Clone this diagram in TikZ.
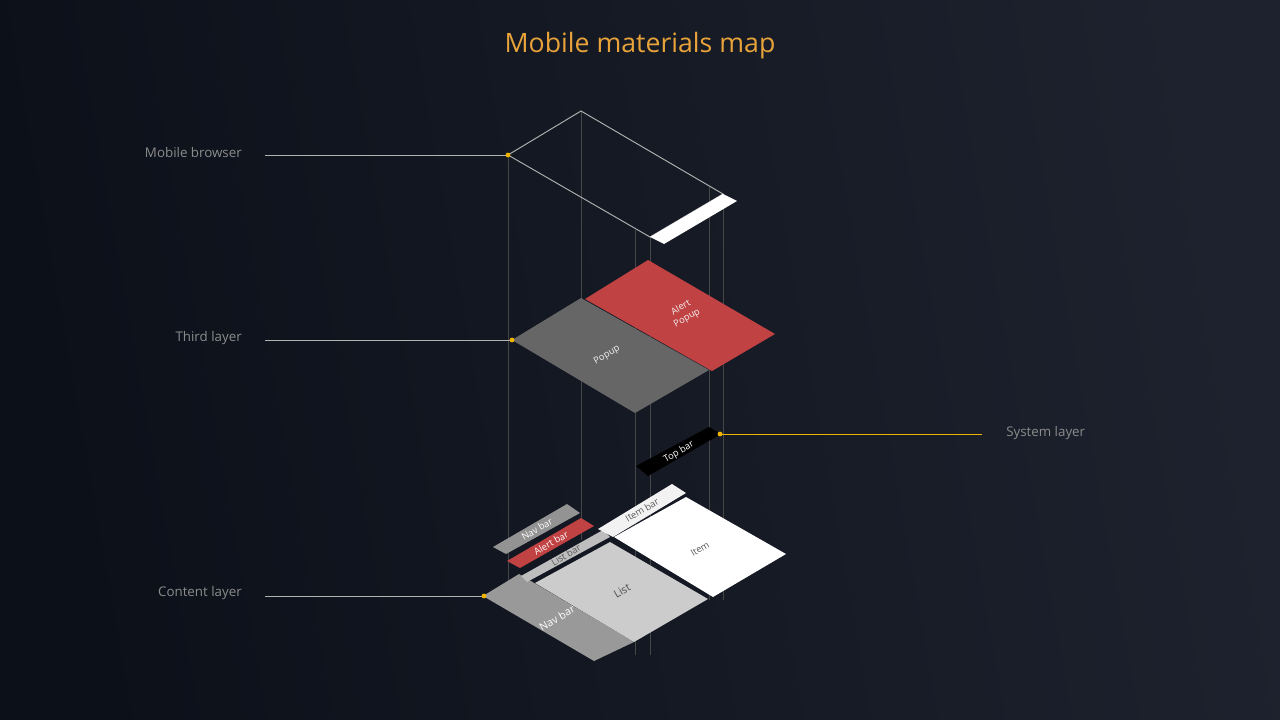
\documentclass[tikz,border=0pt]{standalone}
\usepackage{fontspec}
\setmainfont{Open Sans}
\begin{document}
\begin{tikzpicture}[x=0.75pt,y=-0.75pt,
  vline/.style={draw=gray!55!black,line width=0.4pt},
  lead/.style={draw=white!70!black,line width=0.6pt},
  dot/.style={circle,fill=gold,inner sep=1.3pt},
  lbl/.style={text=white!55!black,font=\fontsize{10}{12}\selectfont,inner sep=0pt},
  tag/.style={font=\fontsize{7}{8}\selectfont,rotate=30,align=center,inner sep=1pt}]
\definecolor{redc}{HTML}{C04243}
\definecolor{gold}{HTML}{F0B400}
\definecolor{titlec}{HTML}{E8A33A}
\shade[left color={rgb,255:red,12;green,16;blue,25},right color={rgb,255:red,30;green,34;blue,46},shading angle=100] (0,0) rectangle (1280,720);
\useasboundingbox (0,0) rectangle (1280,720);
% vertical guide lines
\draw[vline] (508,155)--(508,600) (581,111)--(581,540) (635,230)--(635,655) (650,237)--(650,655) (709,186)--(709,600) (723,194)--(723,600);
% browser
\draw[draw=white!70!black,line width=0.7pt] (508,155)--(581,111)--(723,194)--(650,237)--cycle;
\fill[white] (650,237)--(723,194)--(737,201)--(664,244)--cycle;
% third layer
\fill[redc] (585,299)--(648,260)--(775,334)--(712,371)--cycle;
\fill[fill={rgb,255:red,102;green,102;blue,102}] (512,340)--(581,298)--(709,370)--(635,413)--cycle;
\node[tag,text=white!90!gray] (pop) at (607,355) {Popup};
\node[tag,text=white!90!gray] (ap) at (684,313) {Alert\\[1pt]Popup};
% system layer
\fill[black] (636,466)--(709,427)--(721,434)--(648,476)--cycle;
\node[tag,text=white] (tb) at (679,452) {Top bar};
% content layer
\fill[gray!80!white] (483,596)--(519,574)--(634,642)--(594,661)--cycle;
\fill[fill={rgb,255:red,204;green,204;blue,204}] (535,583)--(610,542)--(708,599)--(634,642)--cycle;
\fill[fill={rgb,255:red,190;green,190;blue,190}] (521,576)--(603,530)--(610,537)--(527,582)--cycle;
\fill[redc] (507,561)--(581,518)--(594,526)--(520,568)--cycle;
\fill[gray!85!white] (493,547)--(567,504)--(580,513)--(506,554)--cycle;
\fill[white!90!gray] (598,529)--(672,484)--(686,493)--(613,537)--cycle;
\fill[white] (614,537)--(686,497)--(786,554)--(713,597)--cycle;
\node[tag,text=white] at (537,529) {Nav bar};
\node[tag,text=white] at (551,543) {Alert bar};
\node[tag,text=white!35!black] at (566,555) {List bar};
\node[tag,text=white!35!black] at (642,510) {Item bar};
\node[tag,text=white!35!black] at (700,549) {Item};
\node[tag,text=white!30!black,font=\fontsize{8}{9}\selectfont] at (622,591) {List};
\node[tag,text=white,font=\fontsize{8}{9}\selectfont] at (557,618) {Nav bar};
% labels
\node[font=\fontsize{20}{24}\selectfont,text=titlec] (title) at (640,46) {Mobile materials map};
\node[lbl,anchor=east] (l1) at (242,153) {Mobile browser};
\node[lbl,anchor=east] (l2) at (242,338) {Third layer};
\node[lbl,anchor=east] (l3) at (242,593) {Content layer};
\node[lbl,anchor=west] (l4) at (1006,433) {System layer};
\coordinate (d1) at (508,155); \coordinate (d2) at (512,340); \coordinate (d3) at (484,596); \coordinate (d4) at (720,434);
\coordinate (s1) at (265,155); \coordinate (s2) at (265,340); \coordinate (s3) at (265,596); \coordinate (s4) at (982,434);
\draw[lead] (s1)--(d1); \draw[lead] (s2)--(d2); \draw[lead] (s3)--(d3);
\draw[draw=gold,line width=0.7pt] (d4)--(s4);
\node[dot] at (d1) {}; \node[dot] at (d2) {}; \node[dot] at (d3) {}; \node[dot] at (d4) {};
\end{tikzpicture}
\end{document}
